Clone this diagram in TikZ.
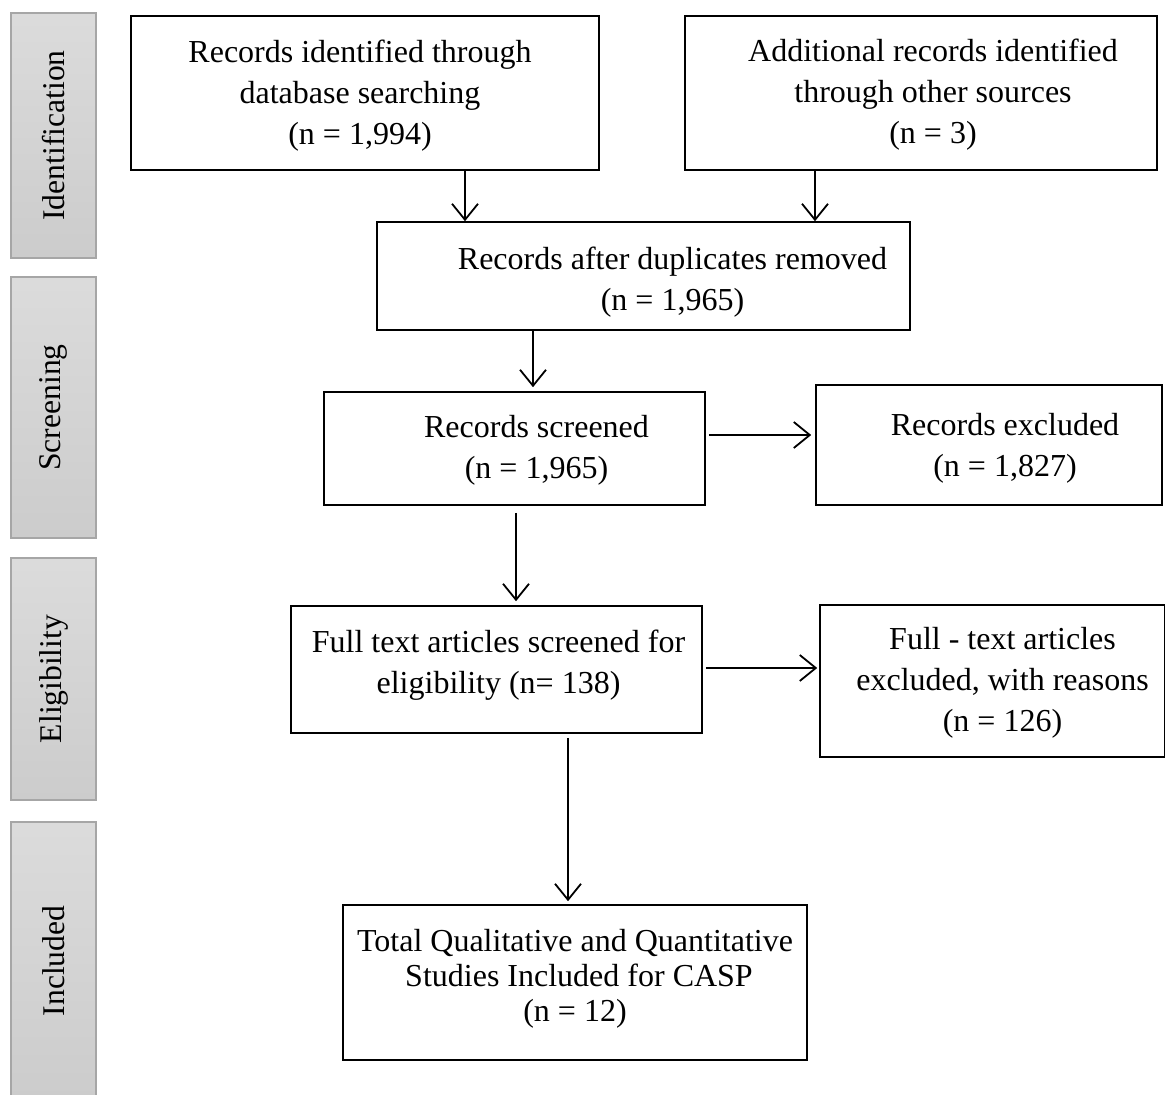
\documentclass[tikz,border=0pt]{standalone}
\usepackage{fontspec}
\setmainfont{Liberation Serif}
\usetikzlibrary{arrows.meta, positioning}

\begin{document}
\begin{tikzpicture}[
    x=0.5pt, y=-0.5pt,
    box/.style={rectangle, draw, line width=0.8pt, inner sep=0pt},
    boxtext/.style={align=center, inner sep=0pt, font=\fontsize{16}{20.5}\selectfont},
    stage/.style={rectangle, draw=black!35, line width=1pt, top color=black!14, bottom color=black!20, rotate=90, minimum height=42.5pt, inner sep=0pt, font=\fontsize{15.8}{18}\selectfont},
    arrow/.style={-{Straight Barb[length=8pt, width=13pt]}, line width=0.9pt}
]
\useasboundingbox (0,0) rectangle (1165,1095);

% Stages on the left
\node[stage, minimum width=122.5pt] (sident) at (53.5,135.5) {Identification};
\node[stage, minimum width=130.5pt] (sscreen) at (53.5,407.5) {Screening};
\node[stage, minimum width=121pt] (selig) at (53.5,679) {Eligibility};
\node[stage, minimum width=139pt] (sincl) at (53.5,961) {Included};

% Identification
\node[box, minimum width=234pt, minimum height=77pt,
  label={[boxtext, xshift=-2.5pt, yshift=-1.5pt]center:Records identified through\\database searching\\(n = 1,994)}] (dbsearch) at (365,93) {};
\node[box, minimum width=236pt, minimum height=77pt,
  label={[boxtext, xshift=6pt, yshift=-1pt]center:Additional records identified\\through other sources\\(n = 3)}] (othersrc) at (921,93) {};
\node[box, minimum width=266.5pt, minimum height=54pt,
  label={[boxtext, xshift=14.5pt, yshift=-3pt]center:Records after duplicates removed\\(n = 1,965)}] (dedup) at (643.5,276) {};

% Screening
\node[box, minimum width=190.5pt, minimum height=56.5pt,
  label={[boxtext, xshift=11pt, yshift=-1pt]center:Records screened\\(n = 1,965)}] (screened) at (514.5,448.5) {};
\node[box, minimum width=173pt, minimum height=60pt,
  label={[boxtext, xshift=8pt, yshift=-1.5pt]center:Records excluded\\(n = 1,827)}] (excluded) at (989,445) {};

% Eligibility
\node[box, minimum width=205.5pt, minimum height=63.5pt,
  label={[boxtext, xshift=1pt, yshift=2pt]center:Full text articles screened for\\eligibility (n= 138)}] (fulltext) at (496.5,669.5) {};
\node[box, minimum width=172.5pt, minimum height=76pt,
  label={[boxtext, xshift=5pt, yshift=-1pt]center:Full - text articles\\excluded, with reasons\\(n = 126)}] (ftexcl) at (992.5,681) {};

% Included
\node[box, minimum width=232pt, minimum height=77.5pt,
  label={[boxtext, font=\fontsize{16}{17.5}\selectfont, yshift=2pt]center:Total Qualitative and Quantitative\\\ Studies Included for CASP\\(n = 12)}] (included) at (575,982.5) {};

% Arrows
\draw[arrow] (dbsearch.south -| 465,0) -- (dedup.north -| 465,0);
\draw[arrow] (othersrc.south -| 815,0) -- (dedup.north -| 815,0);
\draw[arrow] (dedup.south -| 533,0) -- ([yshift=2pt]screened.north -| 533,0);
\draw[arrow, shorten <=1.5pt, shorten >=2pt] (screened.east |- 0,435) -- (excluded.west |- 0,435);
\draw[arrow, shorten <=3.5pt, shorten >=2pt] (screened.south -| 516,0) -- (fulltext.north -| 516,0);
\draw[arrow, shorten <=1.5pt, shorten >=1pt] (fulltext.east |- 0,668) -- (ftexcl.west |- 0,668);
\draw[arrow, shorten <=2pt, shorten >=1.5pt] (fulltext.south -| 568,0) -- (included.north -| 568,0);

\end{tikzpicture}
\end{document}
